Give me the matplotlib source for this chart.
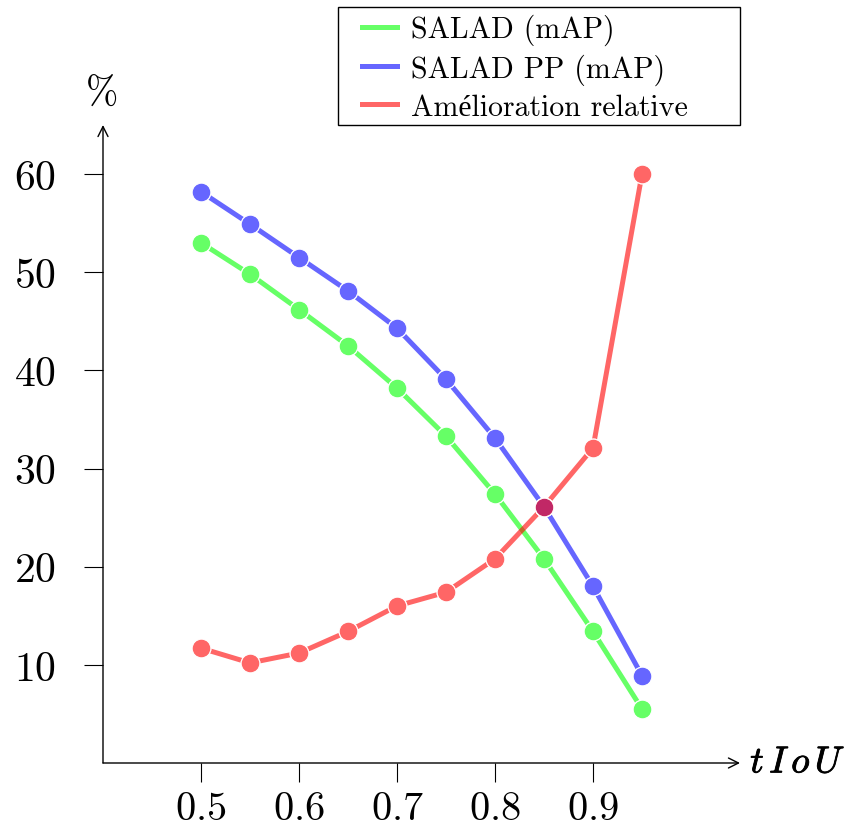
import numpy as np
import matplotlib
matplotlib.use("Agg")
import matplotlib.pyplot as plt
import matplotlib.patheffects as pe
from matplotlib.patches import Rectangle

plt.rcParams['font.family'] = ['cmr10', 'Liberation Serif']
plt.rcParams['mathtext.fontset'] = 'cm'
plt.rcParams['axes.formatter.use_mathtext'] = True

# tIoU thresholds
tiou = [0.5, 0.55, 0.6, 0.65, 0.7, 0.75, 0.8, 0.85, 0.9, 0.95]
# values (%)
salad = [53.0, 49.8, 46.2, 42.5, 38.2, 33.3, 27.4, 20.8, 13.4, 5.5]
salad_pp = [58.2, 54.9, 51.5, 48.1, 44.3, 39.1, 33.1, 26.1, 18.0, 8.9]
relative = [11.7, 10.2, 11.2, 13.4, 16.0, 17.4, 20.8, 26.1, 32.1, 60.0]

series = [
    (salad, (0, 1, 0), 'SALAD (mAP)'),
    (salad_pp, (0, 0, 1), 'SALAD PP (mAP)'),
    (relative, (1, 0, 0), 'Amélioration relative'),
]

fig = plt.figure(figsize=(8.47, 8.29), dpi=100)
ax = fig.add_axes([103 / 847, 65 / 829, 637 / 847, 638 / 829])

for vals, col, lab in series:
    # lines, 60% opacity
    ax.plot(tiou, vals, color=col, alpha=0.6, lw=3.6, label=lab, zorder=2)
    # white disks so the line does not show through the markers
    ax.plot(tiou, vals, ls='none', marker='o', ms=13.5, mfc='white',
            mec='white', mew=0.8, zorder=2.5)
for vals, col, lab in series:
    ax.plot(tiou, vals, ls='none', marker='o', ms=13.5,
            mfc=col + (0.6,), mec='white', mew=0.8, zorder=3)

ax.set_xlim(0.4, 1.05)
ax.set_ylim(0, 65)
ax.set_xticks([0.5, 0.6, 0.7, 0.8, 0.9])
ax.set_yticks([10, 20, 30, 40, 50, 60])
ax.tick_params(axis='x', direction='out', length=14, width=0.8, pad=6, labelsize=29)
ax.tick_params(axis='y', direction='out', length=14, width=0.8, pad=20, labelsize=30)
for s in ax.spines.values():
    s.set_visible(False)

# axis lines with arrow heads
arrow = dict(arrowstyle='->', lw=1.0, color='black', shrinkA=0, shrinkB=0,
             mutation_scale=18)
ax.annotate('', xy=(1, 0), xytext=(0, 0), xycoords='axes fraction', arrowprops=arrow)
ax.annotate('', xy=(0, 1), xytext=(0, 0), xycoords='axes fraction', arrowprops=arrow)

ax.text(1.016, 0, r'$t\,I\,o\,U$', transform=ax.transAxes, fontsize=27,
        ha='left', va='center',
        path_effects=[pe.withStroke(linewidth=0.6, foreground='black')])
ax.text(-0.003, 1.05, r'$\%$', transform=ax.transAxes, fontsize=28,
        ha='center', va='center')

# legend box (pgfplots style: wide frame, entries at the left)
fig.patches.append(Rectangle((338 / 847, 1 - 126 / 829), 402 / 847, 118 / 829,
                             transform=fig.transFigure, fill=True, fc='white',
                             ec='black', lw=1.0, zorder=4))
handles, labels = ax.get_legend_handles_labels()
leg = fig.legend(handles, labels, loc='upper left',
                 bbox_to_anchor=(356 / 847, 1 - 9 / 829),
                 bbox_transform=fig.transFigure, fontsize=21.5, frameon=False,
                 handlelength=1.17, borderpad=0.2, labelspacing=0.28,
                 handletextpad=0.47, borderaxespad=0)
leg.set_zorder(5)

fig.savefig('out.png', dpi=100)
